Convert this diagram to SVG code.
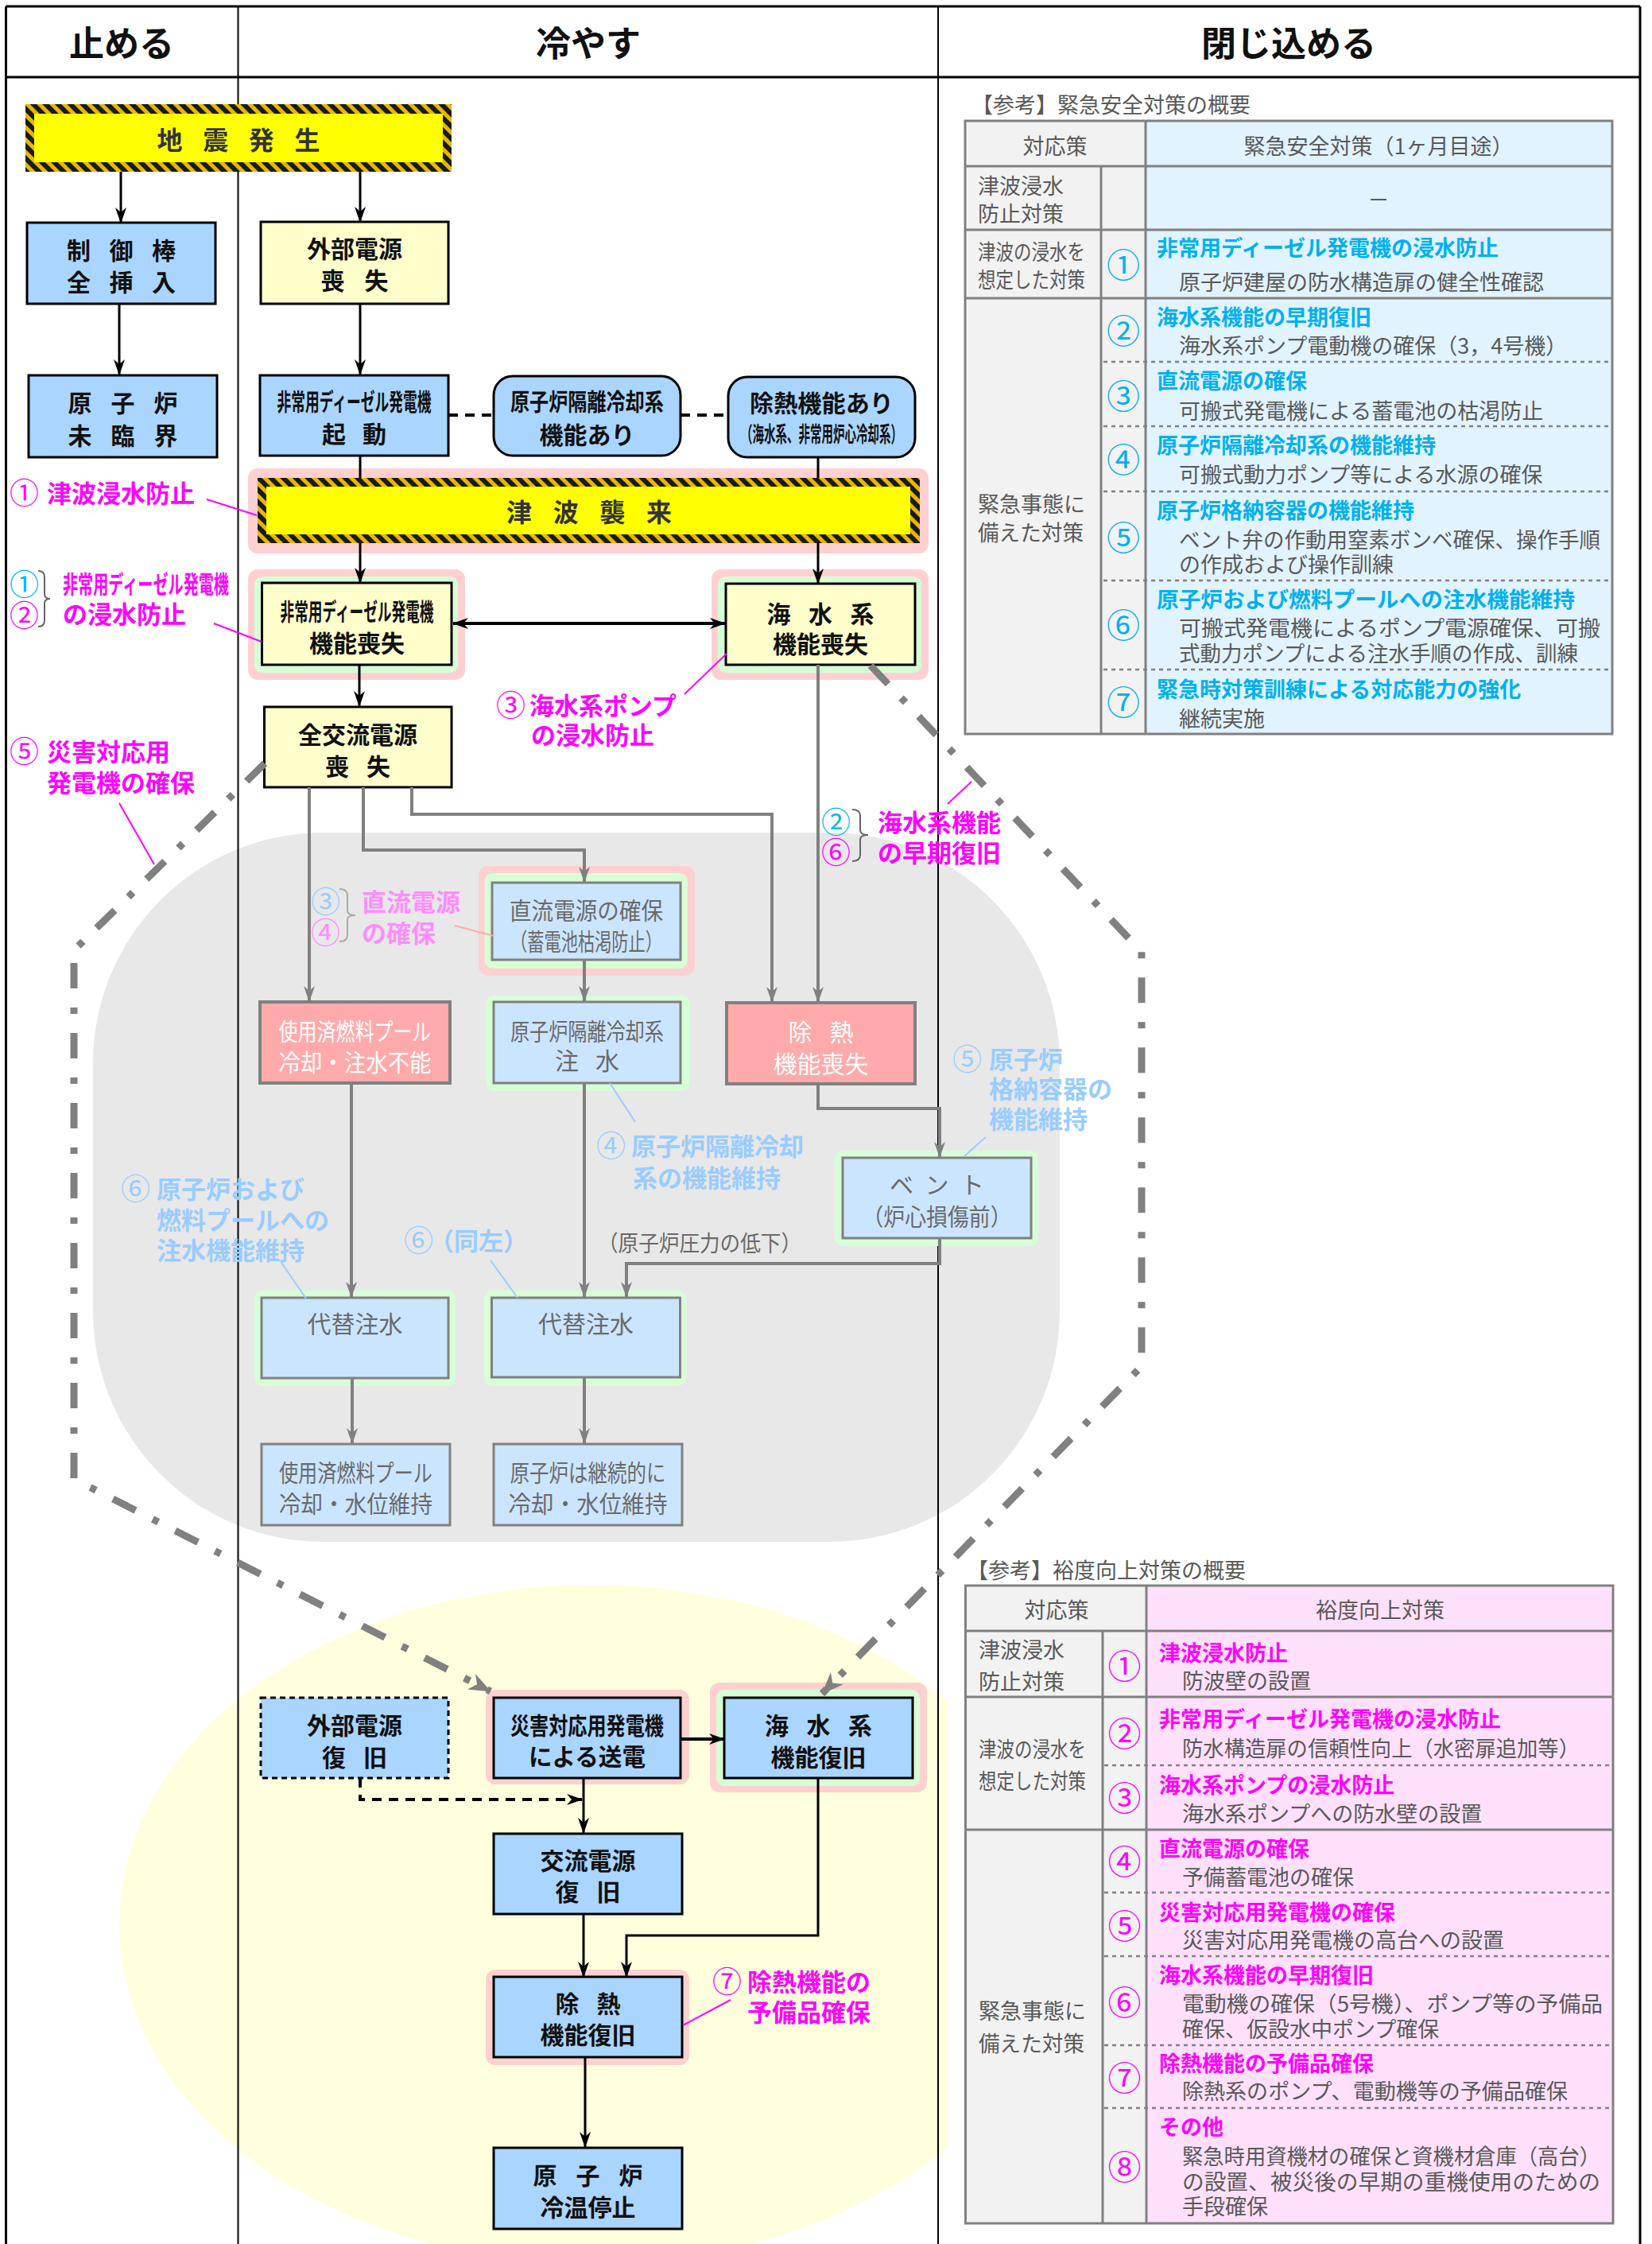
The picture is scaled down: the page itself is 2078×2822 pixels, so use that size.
<svg xmlns="http://www.w3.org/2000/svg" width="2078" height="2822" viewBox="0 0 2078 2822">
<defs>
<style>
text{font-family:"Noto Sans CJK JP","Noto Sans CJK SC",sans-serif;dominant-baseline:central}
tspan{dominant-baseline:central}
.h{font-size:44px;font-weight:bold;fill:#111;text-anchor:middle}
.n{font-size:30px;font-weight:bold;fill:#111;text-anchor:middle}
.nf{fill:#6a6a6a;font-weight:normal}
.nw{fill:#fff;font-weight:normal}
.hz{font-size:32px;font-weight:bold;fill:#333;text-anchor:middle}
.lab{font-size:31px;font-weight:bold;fill:#ff00ff}
.cn{font-size:37px;font-weight:normal}
.cy{fill:#00b8f0}
.mg{fill:#ff00ff}
.pb{fill:#99ccff}
.pm{fill:#ff8cff}
.tb{font-size:27px;fill:#595959}
.tc{text-anchor:middle}
.t1{fill:#00b0f0;font-weight:bold}
.t2{fill:#ff00ff;font-weight:bold}
.num1{font-size:42px;fill:#00b0f0;text-anchor:middle}
.num2{font-size:42px;fill:#ff00ff;text-anchor:middle}
.bx{fill:#aad5ff;stroke:#000;stroke-width:3}
.by{fill:#ffffcc;stroke:#000;stroke-width:3}
.bf{fill:#cce5ff;stroke:#808080;stroke-width:3}
.bs{fill:#ffaaaa;stroke:#808080;stroke-width:4}
.hp{fill:#ffd0d0}
.hg{fill:#d6ffd6}
.cb{stroke:#000;stroke-width:3;fill:none}
.cg{stroke:#808080;stroke-width:4;fill:none}
.dd{stroke:#808080;stroke-width:9;fill:none;stroke-dasharray:32 24 8 24}
.ld{stroke:#ff00ff;stroke-width:2}
.lp{stroke:#99ccff;stroke-width:2}
.br{stroke:#666;stroke-width:2;fill:none}
.fr{stroke:#000;stroke-width:3;fill:none}
.tl{stroke:#808080;stroke-width:3;fill:none}
.dt{stroke:#808080;stroke-width:2.5;stroke-dasharray:5 5;fill:none}
</style>
<pattern id="haz" width="11" height="11" patternUnits="userSpaceOnUse" patternTransform="rotate(-45)">
<rect width="11" height="11" fill="#e6b800"/><rect width="6" height="11" fill="#1a1a1a"/>
</pattern>
<marker id="ab" markerUnits="userSpaceOnUse" markerWidth="20" markerHeight="14" refX="19" refY="7" orient="auto-start-reverse"><path d="M0,0 L20,7 L0,14 L6,7 z" fill="#000"/></marker>
<marker id="ag" markerUnits="userSpaceOnUse" markerWidth="20" markerHeight="14" refX="19" refY="7" orient="auto"><path d="M0,0 L20,7 L0,14 L6,7 z" fill="#808080"/></marker>
<marker id="agl" markerUnits="userSpaceOnUse" markerWidth="28" markerHeight="22" refX="27" refY="11" orient="auto"><path d="M0,0 L28,11 L0,22 L8,11 z" fill="#808080"/></marker>
<clipPath id="clipY"><rect x="0" y="0" width="1192" height="2822"/></clipPath>
</defs>
<rect x="0" y="0" width="2078" height="2822" fill="#fff"/>
<g id="backgrounds">
<rect x="117" y="1047" width="1216" height="892" rx="290" ry="290" fill="#e8e8e8"/>
<ellipse cx="744" cy="2420" rx="594" ry="427" fill="#ffffdd" clip-path="url(#clipY)"/>
</g>
<g id="frame">
<line class="fr" x1="7.5" y1="8" x2="2063" y2="8"/>
<line class="fr" x1="7.5" y1="97" x2="2063" y2="97"/>
<line class="fr" x1="7.5" y1="8" x2="7.5" y2="2822"/>
<line class="fr" x1="2063" y1="8" x2="2063" y2="2822"/>
<line x1="299.5" y1="8" x2="299.5" y2="2822" stroke="#000" stroke-width="2"/>
<line x1="1180" y1="8" x2="1180" y2="2822" stroke="#000" stroke-width="2"/>
<text class="h" x="153" y="52">止める</text>
<text class="h" x="740" y="52">冷やす</text>
<text class="h" x="1621" y="52">閉じ込める</text>
</g>
<g id="n-quake">
<rect x="32" y="131" width="536" height="85" fill="url(#haz)"/>
<rect x="43" y="143" width="514" height="61" fill="#ffff00"/>
<text class="hz" x="300" y="174" textLength="205" lengthAdjust="spacing">地 震 発 生</text>
</g>
<g id="n-seigyobou">
<rect class="bx" x="34" y="280" width="237" height="102"/>
<text class="n"><tspan x="152.5" y="313" textLength="137" lengthAdjust="spacing">制 御 棒</tspan><tspan x="152.5" y="353" textLength="137" lengthAdjust="spacing">全 挿 入</tspan></text>
</g>
<g id="n-mirinkai">
<rect class="bx" x="36" y="472" width="237" height="103" stroke-width="5"/>
<text class="n"><tspan x="154.5" y="505" textLength="138" lengthAdjust="spacing">原 子 炉</tspan><tspan x="154.5" y="546" textLength="138" lengthAdjust="spacing">未 臨 界</tspan></text>
</g>
<g id="n-gaibu">
<rect class="by" x="328" y="279" width="236" height="103"/>
<text class="n"><tspan x="446" y="311">外部電源</tspan><tspan x="446" y="351" textLength="85" lengthAdjust="spacing">喪 失</tspan></text>
</g>
<g id="n-dg-kidou">
<rect class="bx" x="327" y="472" width="237" height="101"/>
<text class="n"><tspan x="445.5" y="503" textLength="194" lengthAdjust="spacingAndGlyphs">非常用ディーゼル発電機</tspan><tspan x="445.5" y="544" textLength="81" lengthAdjust="spacing">起 動</tspan></text>
</g>
<g id="n-ric-ari">
<rect class="bx" x="621" y="473" width="235" height="100" rx="24"/>
<text class="n"><tspan x="738.5" y="503" textLength="193" lengthAdjust="spacingAndGlyphs">原子炉隔離冷却系</tspan><tspan x="738.5" y="545">機能あり</tspan></text>
</g>
<g id="n-jonetsu-ari">
<rect class="bx" x="916" y="474" width="235" height="101" rx="24"/>
<text class="n"><tspan x="1033.5" y="505" textLength="181" lengthAdjust="spacingAndGlyphs">除熱機能あり</tspan><tspan x="1033.5" y="544" style="font-size:27px" textLength="203" lengthAdjust="spacingAndGlyphs">（海水系、非常用炉心冷却系）</tspan></text>
</g>
<g id="n-tsunami">
<rect class="hp" x="312" y="589" width="856" height="107" rx="12"/>
<rect x="324" y="601" width="833" height="82" fill="url(#haz)"/>
<rect x="335" y="612" width="810" height="60" fill="#ffff00"/>
<text class="hz" x="741" y="642" textLength="208" lengthAdjust="spacing">津 波 襲 来</text>
</g>
<g id="n-dg-loss">
<rect class="hp" x="312" y="716" width="273" height="139" rx="12"/>
<rect class="hg" x="320" y="725" width="256" height="121" rx="10"/>
<rect class="by" x="329.5" y="733" width="238.5" height="103"/>
<text class="n"><tspan x="449" y="767" textLength="193" lengthAdjust="spacingAndGlyphs">非常用ディーゼル発電機</tspan><tspan x="449" y="807">機能喪失</tspan></text>
</g>
<g id="n-sea-loss">
<rect class="hp" x="895" y="716" width="273" height="139" rx="12"/>
<rect class="hg" x="903" y="725" width="256" height="121" rx="10"/>
<rect class="by" x="913" y="734" width="238" height="102"/>
<text class="n"><tspan x="1032" y="770" textLength="135" lengthAdjust="spacing">海 水 系</tspan><tspan x="1032" y="808">機能喪失</tspan></text>
</g>
<g id="n-ac-loss">
<rect class="by" x="332.5" y="889" width="235.5" height="101"/>
<text class="n"><tspan x="450" y="922">全交流電源</tspan><tspan x="450" y="962" textLength="82" lengthAdjust="spacing">喪 失</tspan></text>
</g>
<g id="n-dc">
<rect class="hp" x="602" y="1089" width="272" height="138" rx="12"/>
<rect class="hg" x="609.5" y="1098" width="255.5" height="120" rx="10"/>
<rect class="bf" x="619" y="1110" width="237" height="97"/>
<text class="n nf"><tspan x="737.5" y="1143" textLength="193" lengthAdjust="spacingAndGlyphs">直流電源の確保</tspan><tspan x="737.5" y="1182" textLength="191" lengthAdjust="spacingAndGlyphs">（蓄電池枯渇防止）</tspan></text>
</g>
<g id="n-sfp-loss">
<rect class="bs" x="327" y="1260" width="239" height="102"/>
<text class="n nw"><tspan x="446.5" y="1295" textLength="192" lengthAdjust="spacingAndGlyphs">使用済燃料プール</tspan><tspan x="446.5" y="1334" textLength="192" lengthAdjust="spacingAndGlyphs">冷却・注水不能</tspan></text>
</g>
<g id="n-ric-inj">
<rect class="hg" x="611" y="1252" width="256" height="120" rx="10"/>
<rect class="bf" x="621" y="1260" width="235" height="102"/>
<text class="n nf"><tspan x="738.5" y="1295" textLength="193" lengthAdjust="spacingAndGlyphs">原子炉隔離冷却系</tspan><tspan x="738.5" y="1332" textLength="81" lengthAdjust="spacing">注 水</tspan></text>
</g>
<g id="n-heat-loss">
<rect class="bs" x="914" y="1261" width="237" height="102"/>
<text class="n nw"><tspan x="1032.5" y="1296" textLength="82" lengthAdjust="spacing">除 熱</tspan><tspan x="1032.5" y="1336">機能喪失</tspan></text>
</g>
<g id="n-vent">
<rect class="hg" x="1050" y="1447" width="256" height="120" rx="10"/>
<rect class="bf" x="1060" y="1456" width="237" height="101"/>
<text class="n nf"><tspan x="1178.5" y="1488" textLength="119" lengthAdjust="spacing">ベ ン ト</tspan><tspan x="1178.5" y="1528" textLength="188" lengthAdjust="spacingAndGlyphs">（炉心損傷前）</tspan></text>
</g>
<g id="n-alt-l">
<rect class="hg" x="320" y="1623" width="253" height="120" rx="10"/>
<rect class="bf" x="329" y="1632" width="235" height="101"/>
<text class="n nf" x="446.5" y="1663">代替注水</text>
</g>
<g id="n-alt-r">
<rect class="hg" x="609" y="1623" width="254" height="120" rx="10"/>
<rect class="bf" x="618.5" y="1632" width="237" height="100"/>
<text class="n nf" x="737" y="1663">代替注水</text>
</g>
<g id="n-sfp-ok">
<rect class="bf" x="329" y="1816" width="237" height="102" stroke-width="5"/>
<text class="n nf"><tspan x="447.5" y="1850" textLength="193" lengthAdjust="spacingAndGlyphs">使用済燃料プール</tspan><tspan x="447.5" y="1889" textLength="193" lengthAdjust="spacingAndGlyphs">冷却・水位維持</tspan></text>
</g>
<g id="n-rx-ok">
<rect class="bf" x="621" y="1816" width="237" height="102" stroke-width="5"/>
<text class="n nf"><tspan x="739.5" y="1850" textLength="196" lengthAdjust="spacingAndGlyphs">原子炉は継続的に</tspan><tspan x="739.5" y="1889" textLength="200" lengthAdjust="spacingAndGlyphs">冷却・水位維持</tspan></text>
</g>
<g id="n-gaibu-fukkyu">
<rect class="bx" x="328" y="2135" width="236" height="101" stroke-dasharray="7 5"/>
<text class="n"><tspan x="446" y="2168">外部電源</tspan><tspan x="446" y="2208" textLength="82" lengthAdjust="spacing">復 旧</tspan></text>
</g>
<g id="n-saigai">
<rect class="hp" x="611" y="2125" width="256" height="119" rx="12"/>
<rect class="bx" x="621" y="2135" width="235" height="101"/>
<text class="n"><tspan x="738.5" y="2168" textLength="193" lengthAdjust="spacingAndGlyphs">災害対応用発電機</tspan><tspan x="738.5" y="2207" textLength="147" lengthAdjust="spacingAndGlyphs">による送電</tspan></text>
</g>
<g id="n-sea-rec">
<rect class="hp" x="893" y="2116" width="273" height="138" rx="12"/>
<rect class="hg" x="901" y="2125" width="256" height="121" rx="10"/>
<rect class="bx" x="911" y="2135" width="237" height="101"/>
<text class="n"><tspan x="1029.5" y="2168" textLength="135" lengthAdjust="spacing">海 水 系</tspan><tspan x="1029.5" y="2208">機能復旧</tspan></text>
</g>
<g id="n-ac-rec">
<rect class="bx" x="621" y="2306" width="237" height="101"/>
<text class="n"><tspan x="739.5" y="2338">交流電源</tspan><tspan x="739.5" y="2377" textLength="82" lengthAdjust="spacing">復 旧</tspan></text>
</g>
<g id="n-heat-rec">
<rect class="hp" x="611" y="2477" width="256" height="120" rx="12"/>
<rect class="bx" x="621" y="2486" width="237" height="101"/>
<text class="n"><tspan x="739.5" y="2518" textLength="82" lengthAdjust="spacing">除 熱</tspan><tspan x="739.5" y="2557">機能復旧</tspan></text>
</g>
<g id="n-cold">
<rect class="bx" x="621" y="2701" width="237" height="102" stroke-width="5"/>
<text class="n"><tspan x="739.5" y="2734" textLength="138" lengthAdjust="spacing">原 子 炉</tspan><tspan x="739.5" y="2774">冷温停止</tspan></text>
</g>
<g id="connectors">
<polyline class="dd" points="333,960 93,1195 93,1860 617,2127" marker-end="url(#agl)"/>
<polyline class="dd" points="1095,837 1436,1197 1436,1718 1034,2130" marker-end="url(#agl)"/>
<line class="cb" x1="152" y1="216" x2="152" y2="280" marker-end="url(#ab)"/>
<line class="cb" x1="453" y1="216" x2="453" y2="279" marker-end="url(#ab)"/>
<line class="cb" x1="150" y1="382" x2="150" y2="471" marker-end="url(#ab)"/>
<line class="cb" x1="453" y1="382" x2="453" y2="471" marker-end="url(#ab)"/>
<line class="cb" x1="453" y1="573" x2="453" y2="601"/>
<line class="cb" x1="1029" y1="575" x2="1029" y2="601"/>
<line x1="564" y1="522" x2="621" y2="522" stroke="#000" stroke-width="4" stroke-dasharray="12 9"/>
<line x1="856" y1="522" x2="916" y2="522" stroke="#000" stroke-width="4" stroke-dasharray="12 9"/>
<line class="cb" x1="453" y1="683" x2="453" y2="733" marker-end="url(#ab)"/>
<line class="cb" x1="1029" y1="683" x2="1029" y2="734" marker-end="url(#ab)"/>
<line x1="570" y1="784" x2="912" y2="784" stroke="#000" stroke-width="4" marker-start="url(#ab)" marker-end="url(#ab)"/>
<line class="cb" x1="452" y1="836" x2="452" y2="888" marker-end="url(#ab)"/>
<line class="cg" x1="389" y1="990" x2="389" y2="1259" marker-end="url(#ag)"/>
<polyline class="cg" points="457,990 457,1069 735,1069 735,1109" marker-end="url(#ag)"/>
<polyline class="cg" points="518,990 518,1024 971,1024 971,1260" marker-end="url(#ag)"/>
<line class="cg" x1="1029" y1="836" x2="1029" y2="1260" marker-end="url(#ag)"/>
<line class="cg" x1="735" y1="1207" x2="735" y2="1259" marker-end="url(#ag)"/>
<line class="cg" x1="442" y1="1362" x2="442" y2="1631" marker-end="url(#ag)"/>
<line class="cg" x1="735" y1="1362" x2="735" y2="1631" marker-end="url(#ag)"/>
<polyline class="cg" points="1029,1363 1029,1394 1182,1394 1182,1455" marker-end="url(#ag)"/>
<polyline class="cg" points="1182,1557 1182,1589 788,1589 788,1631" marker-end="url(#ag)"/>
<line class="cg" x1="443" y1="1733" x2="443" y2="1815" marker-end="url(#ag)"/>
<line class="cg" x1="735" y1="1732" x2="735" y2="1815" marker-end="url(#ag)"/>
<polyline points="453,2236 453,2263 732,2263" stroke="#000" stroke-width="4" stroke-dasharray="12 9" fill="none" marker-end="url(#ab)"/>
<line class="cb" x1="734" y1="2236" x2="734" y2="2305" marker-end="url(#ab)"/>
<line x1="856" y1="2187" x2="911" y2="2187" stroke="#000" stroke-width="4" marker-end="url(#ab)"/>
<line class="cb" x1="734" y1="2407" x2="734" y2="2486" marker-end="url(#ab)"/>
<polyline class="cb" points="1029,2236 1029,2434 788,2434 788,2486" marker-end="url(#ab)"/>
<line class="cb" x1="736" y1="2587" x2="736" y2="2700" marker-end="url(#ab)"/>
</g>
<g id="labels">
<line class="ld" x1="260" y1="628" x2="323" y2="648"/>
<text class="lab" y="618"><tspan class="cn" x="12" y="618">①</tspan><tspan x="59" y="618">津波浸水防止</tspan></text>
<line class="ld" x1="269" y1="784" x2="329" y2="807"/>
<path class="br" d="M48,718 Q56,718 56,726 L56,747 Q56,753 63,753 Q56,753 56,759 L56,780 Q56,788 48,788"/>
<text class="lab"><tspan class="cn cy" x="12" y="733">①</tspan><tspan class="cn" x="12" y="772">②</tspan><tspan x="79" y="732" textLength="209" lengthAdjust="spacingAndGlyphs">非常用ディーゼル発電機</tspan><tspan x="79" y="770">の浸水防止</tspan></text>
<line class="ld" x1="861" y1="873" x2="914" y2="822"/>
<text class="lab"><tspan class="cn" x="624" y="885">③</tspan><tspan x="666" y="885">海水系ポンプ</tspan><tspan x="668" y="922">の浸水防止</tspan></text>
<line class="ld" x1="150" y1="1010" x2="194" y2="1087"/>
<text class="lab"><tspan class="cn" x="12" y="943">⑤</tspan><tspan x="59" y="943">災害対応用</tspan><tspan x="59" y="982">発電機の確保</tspan></text>
<line class="ld" x1="1192" y1="1011" x2="1222" y2="983"/>
<path class="br" d="M1072,1018 Q1082,1018 1082,1026 L1082,1044 Q1082,1050 1092,1050 Q1082,1050 1082,1056 L1082,1075 Q1082,1083 1072,1083"/>
<text class="lab"><tspan class="cn cy" x="1033" y="1032">②</tspan><tspan class="cn" x="1033" y="1070">⑥</tspan><tspan x="1104" y="1032">海水系機能</tspan><tspan x="1104" y="1070">の早期復旧</tspan></text>
<line class="ld" x1="859" y1="2547" x2="919" y2="2515"/>
<text class="lab"><tspan class="cn" x="896" y="2490">⑦</tspan><tspan x="940" y="2490">除熱機能の</tspan><tspan x="940" y="2528">予備品確保</tspan></text>
<line x1="572" y1="1164" x2="621" y2="1177" stroke="#ffaaaa" stroke-width="2"/>
<path d="M427,1118 Q437,1118 437,1126 L437,1145 Q437,1151 447,1151 Q437,1151 437,1157 L437,1176 Q437,1184 427,1184" stroke="#aaa" stroke-width="2" fill="none"/>
<text class="lab pm"><tspan class="cn pb" x="391" y="1132">③</tspan><tspan class="cn" x="391" y="1171">④</tspan><tspan x="455" y="1132">直流電源</tspan><tspan x="455" y="1171">の確保</tspan></text>
<line class="lp" x1="767" y1="1362" x2="799" y2="1411"/>
<text class="lab pb"><tspan class="cn" x="750" y="1439">④</tspan><tspan x="794" y="1439">原子炉隔離冷却</tspan><tspan x="796" y="1479">系の機能維持</tspan></text>
<line class="lp" x1="1240" y1="1430" x2="1213" y2="1454"/>
<text class="lab pb"><tspan class="cn" x="1198" y="1330">⑤</tspan><tspan x="1244" y="1330">原子炉</tspan><tspan x="1244" y="1367">格納容器の</tspan><tspan x="1244" y="1405">機能維持</tspan></text>
<line class="lp" x1="352" y1="1585" x2="385" y2="1633"/>
<text class="lab pb"><tspan class="cn" x="152" y="1493">⑥</tspan><tspan x="197" y="1493">原子炉および</tspan><tspan x="197" y="1532">燃料プールへの</tspan><tspan x="197" y="1570">注水機能維持</tspan></text>
<line class="lp" x1="617" y1="1585" x2="651" y2="1632"/>
<text class="lab pb"><tspan class="cn" x="508" y="1558">⑥</tspan><tspan x="540" y="1558">（同左）</tspan></text>
<text class="n nf" x="880" y="1562" style="font-size:28px;font-weight:normal" textLength="256" lengthAdjust="spacingAndGlyphs">（原子炉圧力の低下）</text>
</g>
<g id="table1">
<text class="tb" x="1222" y="130">【参考】緊急安全対策の概要</text>
<rect x="1214" y="152" width="227" height="771" fill="#f2f2f2"/>
<rect x="1441" y="152" width="587" height="771" fill="#e0f3fe"/>
<rect class="tl" x="1214" y="152" width="814" height="771"/>
<line class="tl" x1="1214" y1="209" x2="2028" y2="209"/>
<line class="tl" x1="1214" y1="289" x2="2028" y2="289"/>
<line class="tl" x1="1214" y1="375" x2="2028" y2="375"/>
<line class="tl" x1="1441" y1="152" x2="1441" y2="923"/>
<line class="tl" x1="1385" y1="209" x2="1385" y2="923"/>
<line class="dt" x1="1388" y1="455" x2="2026" y2="455"/>
<line class="dt" x1="1388" y1="536" x2="2026" y2="536"/>
<line class="dt" x1="1388" y1="618" x2="2026" y2="618"/>
<line class="dt" x1="1388" y1="730" x2="2026" y2="730"/>
<line class="dt" x1="1388" y1="842" x2="2026" y2="842"/>
<text class="tb tc" x="1327" y="182">対応策</text>
<text class="tb tc" x="1734" y="182">緊急安全対策（1ヶ月目途）</text>
<text class="tb"><tspan x="1230" y="232">津波浸水</tspan><tspan x="1230" y="267">防止対策</tspan></text>
<text class="tb tc" x="1734" y="249">－</text>
<text class="tb"><tspan x="1230" y="315" textLength="135" lengthAdjust="spacingAndGlyphs">津波の浸水を</tspan><tspan x="1230" y="350" textLength="135" lengthAdjust="spacingAndGlyphs">想定した対策</tspan></text>
<text class="tb"><tspan x="1230" y="632" textLength="135" lengthAdjust="spacingAndGlyphs">緊急事態に</tspan><tspan x="1230" y="668" textLength="133" lengthAdjust="spacingAndGlyphs">備えた対策</tspan></text>
<text class="num1" x="1413" y="330">①</text>
<text class="tb"><tspan class="t1" x="1455" y="310">非常用ディーゼル発電機の浸水防止</tspan><tspan x="1483" y="353">原子炉建屋の防水構造扉の健全性確認</tspan></text>
<text class="num1" x="1413" y="413">②</text>
<text class="tb"><tspan class="t1" x="1455" y="397">海水系機能の早期復旧</tspan><tspan x="1483" y="433">海水系ポンプ電動機の確保（3，4号機）</tspan></text>
<text class="num1" x="1413" y="495">③</text>
<text class="tb"><tspan class="t1" x="1455" y="477">直流電源の確保</tspan><tspan x="1483" y="515">可搬式発電機による蓄電池の枯渇防止</tspan></text>
<text class="num1" x="1413" y="575">④</text>
<text class="tb"><tspan class="t1" x="1455" y="558">原子炉隔離冷却系の機能維持</tspan><tspan x="1483" y="595">可搬式動力ポンプ等による水源の確保</tspan></text>
<text class="num1" x="1413" y="673">⑤</text>
<text class="tb"><tspan class="t1" x="1455" y="640">原子炉格納容器の機能維持</tspan><tspan x="1483" y="677" textLength="530" lengthAdjust="spacingAndGlyphs">ベント弁の作動用窒素ボンベ確保、操作手順</tspan><tspan x="1483" y="708">の作成および操作訓練</tspan></text>
<text class="num1" x="1413" y="783">⑥</text>
<text class="tb"><tspan class="t1" x="1455" y="752" textLength="526" lengthAdjust="spacingAndGlyphs">原子炉および燃料プールへの注水機能維持</tspan><tspan x="1483" y="788" textLength="530" lengthAdjust="spacingAndGlyphs">可搬式発電機によるポンプ電源確保、可搬</tspan><tspan x="1483" y="820" textLength="502" lengthAdjust="spacingAndGlyphs">式動力ポンプによる注水手順の作成、訓練</tspan></text>
<text class="num1" x="1413" y="880">⑦</text>
<text class="tb"><tspan class="t1" x="1455" y="865">緊急時対策訓練による対応能力の強化</tspan><tspan x="1483" y="902">継続実施</tspan></text>
</g>
<g id="table2">
<text class="tb" x="1216" y="1973">【参考】裕度向上対策の概要</text>
<rect x="1214.5" y="1994" width="227.5" height="802" fill="#f2f2f2"/>
<rect x="1442" y="1994" width="587" height="802" fill="#ffe0fb"/>
<rect class="tl" x="1214.5" y="1994" width="814.5" height="802"/>
<line class="tl" x1="1214.5" y1="2051" x2="2029" y2="2051"/>
<line class="tl" x1="1214.5" y1="2134" x2="2029" y2="2134"/>
<line class="tl" x1="1214.5" y1="2301" x2="2029" y2="2301"/>
<line class="tl" x1="1442" y1="1994" x2="1442" y2="2796"/>
<line class="tl" x1="1387" y1="2051" x2="1387" y2="2796"/>
<line class="dt" x1="1389" y1="2220" x2="2027" y2="2220"/>
<line class="dt" x1="1389" y1="2380" x2="2027" y2="2380"/>
<line class="dt" x1="1389" y1="2460" x2="2027" y2="2460"/>
<line class="dt" x1="1389" y1="2572" x2="2027" y2="2572"/>
<line class="dt" x1="1389" y1="2651" x2="2027" y2="2651"/>
<text class="tb tc" x="1329" y="2023">対応策</text>
<text class="tb tc" x="1736" y="2023">裕度向上対策</text>
<text class="tb"><tspan x="1231" y="2073">津波浸水</tspan><tspan x="1231" y="2113">防止対策</tspan></text>
<text class="tb"><tspan x="1231" y="2198" textLength="135" lengthAdjust="spacingAndGlyphs">津波の浸水を</tspan><tspan x="1231" y="2238" textLength="135" lengthAdjust="spacingAndGlyphs">想定した対策</tspan></text>
<text class="tb"><tspan x="1231" y="2527" textLength="135" lengthAdjust="spacingAndGlyphs">緊急事態に</tspan><tspan x="1231" y="2568" textLength="133" lengthAdjust="spacingAndGlyphs">備えた対策</tspan></text>
<text class="num2" x="1414.5" y="2092">①</text>
<text class="tb"><tspan class="t2" x="1458" y="2077">津波浸水防止</tspan><tspan x="1487" y="2112">防波壁の設置</tspan></text>
<text class="num2" x="1414.5" y="2177">②</text>
<text class="tb"><tspan class="t2" x="1458" y="2160">非常用ディーゼル発電機の浸水防止</tspan><tspan x="1487" y="2197" textLength="500" lengthAdjust="spacingAndGlyphs">防水構造扉の信頼性向上（水密扉追加等）</tspan></text>
<text class="num2" x="1414.5" y="2258">③</text>
<text class="tb"><tspan class="t2" x="1458" y="2243">海水系ポンプの浸水防止</tspan><tspan x="1487" y="2279">海水系ポンプへの防水壁の設置</tspan></text>
<text class="num2" x="1414.5" y="2338">④</text>
<text class="tb"><tspan class="t2" x="1458" y="2323">直流電源の確保</tspan><tspan x="1487" y="2359">予備蓄電池の確保</tspan></text>
<text class="num2" x="1414.5" y="2419">⑤</text>
<text class="tb"><tspan class="t2" x="1458" y="2403">災害対応用発電機の確保</tspan><tspan x="1487" y="2438">災害対応用発電機の高台への設置</tspan></text>
<text class="num2" x="1414.5" y="2515">⑥</text>
<text class="tb"><tspan class="t2" x="1458" y="2482">海水系機能の早期復旧</tspan><tspan x="1487" y="2518" textLength="529" lengthAdjust="spacingAndGlyphs">電動機の確保（5号機）、ポンプ等の予備品</tspan><tspan x="1487" y="2550">確保、仮設水中ポンプ確保</tspan></text>
<text class="num2" x="1414.5" y="2610">⑦</text>
<text class="tb"><tspan class="t2" x="1458" y="2593">除熱機能の予備品確保</tspan><tspan x="1487" y="2628" textLength="485" lengthAdjust="spacingAndGlyphs">除熱系のポンプ、電動機等の予備品確保</tspan></text>
<text class="num2" x="1414.5" y="2722">⑧</text>
<text class="tb"><tspan class="t2" x="1458" y="2673">その他</tspan><tspan x="1487" y="2710" textLength="526" lengthAdjust="spacingAndGlyphs">緊急時用資機材の確保と資機材倉庫（高台）</tspan><tspan x="1487" y="2742" textLength="526" lengthAdjust="spacingAndGlyphs">の設置、被災後の早期の重機使用のための</tspan><tspan x="1487" y="2773">手段確保</tspan></text>
</g>
</svg>
